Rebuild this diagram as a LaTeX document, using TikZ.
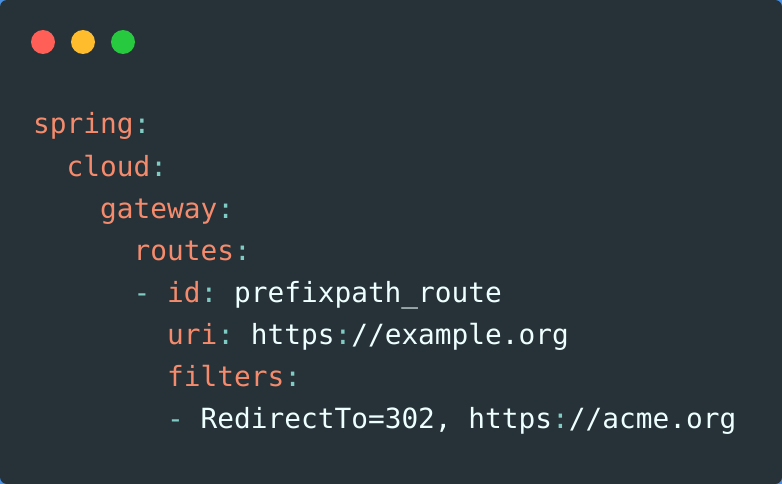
\documentclass[tikz,border=0pt]{standalone}
\usepackage{fontspec}
\setmonofont{DejaVu Sans Mono}
\definecolor{outerbg}{HTML}{4A8FE0}
\definecolor{cardbg}{HTML}{263238}
\definecolor{keyc}{HTML}{F58B6C}
\definecolor{punc}{HTML}{80CBC4}
\definecolor{valc}{HTML}{EEFFFF}
\definecolor{dotred}{HTML}{FF5F56}
\definecolor{dotyel}{HTML}{FFBD2E}
\definecolor{dotgrn}{HTML}{27C93F}
\newcommand{\ymlkey}[1]{\textcolor{keyc}{#1}}
\newcommand{\ymlpun}[1]{\textcolor{punc}{#1}}
\newcommand{\ymlval}[1]{\textcolor{valc}{#1}}
\begin{document}
\begin{tikzpicture}[x=1pt,y=-1pt,
  codeline/.style={anchor=base west,inner sep=0pt,font=\fontsize{27.8pt}{42pt}\selectfont\ttfamily},
  winbtn/.style={circle,inner sep=0pt,minimum size=24pt}]
\useasboundingbox (0,0) rectangle (782,484);
\fill[outerbg] (0,0) rectangle (782,484);
\fill[cardbg,rounded corners=7pt] (0,0) rectangle (782,484);
\node[winbtn,fill=dotred] (red) at (43,42) {};
\node[winbtn,fill=dotyel] (yellow) at (83,42) {};
\node[winbtn,fill=dotgrn] (green) at (123,42) {};
\def\cw{16.75}
\node[codeline] (l1) at (33,134) {\ymlkey{spring}\ymlpun{:}};
\node[codeline] (l2) at (33+2*\cw,176) {\ymlkey{cloud}\ymlpun{:}};
\node[codeline] (l3) at (33+4*\cw,218) {\ymlkey{gateway}\ymlpun{:}};
\node[codeline] (l4) at (33+6*\cw,260) {\ymlkey{routes}\ymlpun{:}};
\node[codeline] (l5) at (33+6*\cw,302) {\ymlpun{-} \ymlkey{id}\ymlpun{:} \ymlval{prefixpath\_route}};
\node[codeline] (l6) at (33+8*\cw,344) {\ymlkey{uri}\ymlpun{:} \ymlval{https}\ymlpun{:}\ymlval{//example.org}};
\node[codeline] (l7) at (33+8*\cw,386) {\ymlkey{filters}\ymlpun{:}};
\node[codeline] (l8) at (33+8*\cw,428) {\ymlpun{-} \ymlval{RedirectTo=302, https}\ymlpun{:}\ymlval{//acme.org}};
\end{tikzpicture}
\end{document}
